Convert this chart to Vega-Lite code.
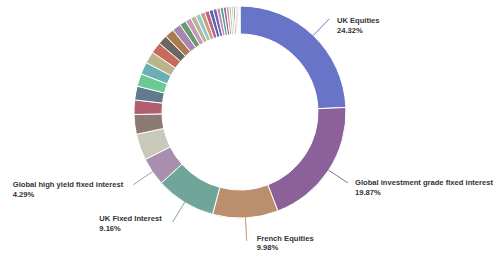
{
  "$schema": "https://vega.github.io/schema/vega-lite/v6.json",
  "autosize": {"type": "none"},
  "width": 480,
  "height": 224,
  "padding": {"left": 0, "top": 0, "right": 16, "bottom": 32},
  "background": "#ffffff",
  "config": {
    "view": {"stroke": null},
    "text": {"font": "Liberation Sans", "fontSize": 7.6, "fontWeight": "bold", "fill": "#333333", "align": "left", "baseline": "middle", "radius": 106}
  },
  "data": {"values": [
    {"i": 1, "name": "UK Equities", "value": 0.2432},
    {"i": 2, "name": "Global investment grade fixed interest", "value": 0.1987},
    {"i": 3, "name": "French Equities", "value": 0.0998},
    {"i": 4, "name": "UK Fixed Interest", "value": 0.0916},
    {"i": 5, "name": "Global high yield fixed interest", "value": 0.0429},
    {"i": 6, "name": "Holding 6", "value": 0.040},
    {"i": 7, "name": "Holding 7", "value": 0.030},
    {"i": 8, "name": "Holding 8", "value": 0.022},
    {"i": 9, "name": "Holding 9", "value": 0.021},
    {"i": 10, "name": "Holding 10", "value": 0.0195},
    {"i": 11, "name": "Holding 11", "value": 0.0185},
    {"i": 12, "name": "Holding 12", "value": 0.018},
    {"i": 13, "name": "Holding 13", "value": 0.017},
    {"i": 14, "name": "Holding 14", "value": 0.0145},
    {"i": 15, "name": "Holding 15", "value": 0.014},
    {"i": 16, "name": "Holding 16", "value": 0.0135},
    {"i": 17, "name": "Holding 17", "value": 0.010},
    {"i": 18, "name": "Holding 18", "value": 0.009},
    {"i": 19, "name": "Holding 19", "value": 0.008},
    {"i": 20, "name": "Holding 20", "value": 0.0075},
    {"i": 21, "name": "Holding 21", "value": 0.0072},
    {"i": 22, "name": "Holding 22", "value": 0.0068},
    {"i": 23, "name": "Holding 23", "value": 0.0062},
    {"i": 24, "name": "Holding 24", "value": 0.0058},
    {"i": 25, "name": "Holding 25", "value": 0.0052},
    {"i": 26, "name": "Holding 26", "value": 0.0048},
    {"i": 27, "name": "Holding 27", "value": 0.0044},
    {"i": 28, "name": "Holding 28", "value": 0.004},
    {"i": 29, "name": "Holding 29", "value": 0.0036},
    {"i": 30, "name": "Holding 30", "value": 0.0032},
    {"i": 31, "name": "Holding 31", "value": 0.0028},
    {"i": 32, "name": "Holding 32", "value": 0.0024},
    {"i": 33, "name": "Holding 33", "value": 0.002},
    {"i": 34, "name": "Holding 34", "value": 0.0014},
    {"i": 35, "name": "Holding 35", "value": 0.001},
    {"i": 36, "name": "Holding 36", "value": 0.0005}
  ]},
  "encoding": {
    "theta": {"field": "value", "type": "quantitative", "stack": true},
    "order": {"field": "i", "type": "quantitative"}
  },
  "layer": [
    {
      "mark": {"type": "arc", "innerRadius": 78, "outerRadius": 106, "stroke": "#ffffff", "strokeWidth": 1},
      "encoding": {
        "color": {"field": "i", "type": "ordinal", "legend": null, "scale": {"range": ["#6874c7","#8c6199","#bb8e6e","#70a59a","#a98fae","#c9c9b9","#8c7b73","#b05f72","#5f7b8d","#6cc991","#6ab0b2","#b9b48c","#c96b5c","#6b6661","#a97b4f","#a886b2","#6b9b74","#c89ab9","#b8b898","#95cbc4","#c9a07f","#c4607f","#5464b8","#7c62a6","#c98bb0","#5e9ea4","#9b6c8c","#d88ea0","#a8d3a0","#d9d3a0","#8d77b6","#e0a8c0","#a0b8d8","#b89070","#e8e0c8","#f0e8d8"]}}
      }
    },
    {
      "mark": {"type": "arc", "innerRadius": 106, "outerRadius": 129, "padAngle": 3, "filled": false, "strokeWidth": 1},
      "encoding": {
        "color": {"field": "i", "type": "ordinal", "legend": null},
        "opacity": {"condition": {"test": "datum.i <= 5", "value": 0.6}, "value": 0}
      }
    },
    {"mark": {"type": "text", "dx": 23.6, "dy": -14.5}, "encoding": {"text": {"condition": {"test": "datum.i === 1", "field": "name"}, "value": ""}}},
    {"mark": {"type": "text", "dx": 23.6, "dy": -4}, "encoding": {"text": {"condition": {"test": "datum.i === 1", "field": "value", "format": ".2%"}, "value": ""}}},
    {"mark": {"type": "text", "dx": 26.4, "dy": 13.1}, "encoding": {"text": {"condition": {"test": "datum.i === 2", "field": "name"}, "value": ""}}},
    {"mark": {"type": "text", "dx": 26.4, "dy": 23.1}, "encoding": {"text": {"condition": {"test": "datum.i === 2", "field": "value", "format": ".2%"}, "value": ""}}},
    {"mark": {"type": "text", "dx": 11.2, "dy": 21.4}, "encoding": {"text": {"condition": {"test": "datum.i === 3", "field": "name"}, "value": ""}}},
    {"mark": {"type": "text", "dx": 11.2, "dy": 30.4}, "encoding": {"text": {"condition": {"test": "datum.i === 3", "field": "value", "format": ".2%"}, "value": ""}}},
    {"mark": {"type": "text", "dx": -85.3, "dy": 16.6}, "encoding": {"text": {"condition": {"test": "datum.i === 4", "field": "name"}, "value": ""}}},
    {"mark": {"type": "text", "dx": -85.3, "dy": 26.9}, "encoding": {"text": {"condition": {"test": "datum.i === 4", "field": "value", "format": ".2%"}, "value": ""}}},
    {"mark": {"type": "text", "dx": -139.7, "dy": 13.3}, "encoding": {"text": {"condition": {"test": "datum.i === 5", "field": "name"}, "value": ""}}},
    {"mark": {"type": "text", "dx": -139.7, "dy": 23.3}, "encoding": {"text": {"condition": {"test": "datum.i === 5", "field": "value", "format": ".2%"}, "value": ""}}}
  ]
}
